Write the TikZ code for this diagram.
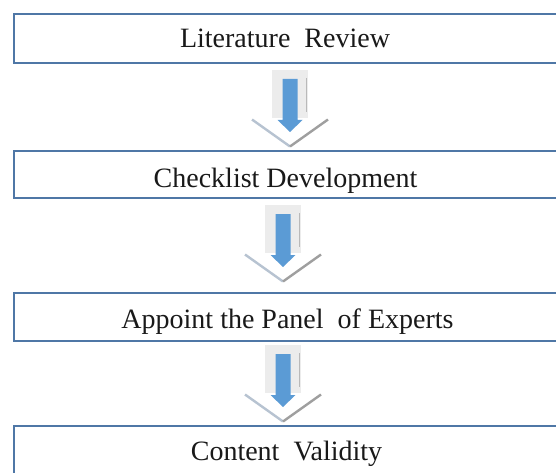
\documentclass[tikz,border=0pt]{standalone}
\usepackage{fontspec}
\setmainfont{Liberation Serif}
\definecolor{boxblue}{RGB}{79,119,166}
\definecolor{arrblue}{RGB}{91,155,213}
\definecolor{shaftgray}{RGB}{236,236,236}
\tikzset{
  x=1pt, y=1pt,
  box/.style={draw=boxblue, line width=1.8pt, fill=white, rectangle, inner sep=0pt,
              minimum width=545pt, anchor=north west},
  lbl/.style={inner sep=0pt, anchor=base, font=\fontsize{28}{32}\selectfont, text=black!90},
  blkarrow/.pic={
    % outer (white, bevelled) arrow
    \fill[white] (-18,0) -- (18,0) -- (18,-48) -- (40,-48) -- (0,-78) -- (-40,-48) -- (-18,-48) -- cycle;
    \fill[shaftgray] (-18,0) rectangle (18,-48);
    \draw[gray!55, line width=1.6pt] (16.5,-8) -- (16.5,-42);
    \draw[line width=2.4pt, gray!35!boxblue!45] (-38,-49.5) -- (0,-76.5);
    \draw[line width=2.4pt, gray!75] (0,-76.5) -- (38,-49.5);
    % inner blue arrow
    \fill[arrblue] (-7.5,-9) -- (7.5,-9) -- (7.5,-50) -- (12.5,-50) -- (0,-62) -- (-12.5,-50) -- (-7.5,-50) -- cycle;
  }
}
\begin{document}
\begin{tikzpicture}
\useasboundingbox (0,0) rectangle (556,-473);
\clip (0,0) rectangle (556,-473);
\fill[white] (0,0) rectangle (556,-473);

\node[box, minimum height=49pt] (b1) at (13,-13) {};
\node[box, minimum height=47pt] (b2) at (13,-150) {};
\node[box, minimum height=48pt] (b3) at (13,-292) {};
\node[box, minimum height=60pt] (b4) at (13,-425) {};

\node[lbl] (t1) at (285,-48) {Literature\ \ Review};
\node[lbl] (t2) at (285.5,-187) {Checklist Development};
\node[lbl] (t3) at (287.5,-328) {Appoint the Panel\ \ of Experts};
\node[lbl] (t4) at (286.5,-460) {Content\ \ Validity};

\pic (a1) at (290,-70) {blkarrow};
\pic (a2) at (283,-205) {blkarrow};
\pic (a3) at (283,-345) {blkarrow};
\end{tikzpicture}
\end{document}
